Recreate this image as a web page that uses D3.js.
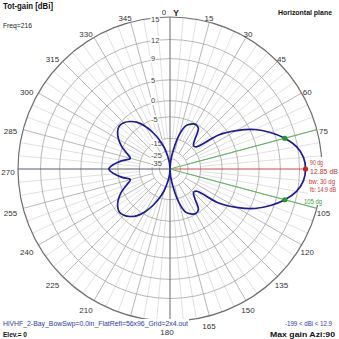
<!DOCTYPE html>
<html><head><meta charset="utf-8">
<script src="https://cdn.jsdelivr.net/npm/d3@7"></script>
<style>
body{margin:0;background:#fff}
svg{display:block;font-family:"Liberation Sans",Arial,sans-serif}
</style>
</head><body>
<svg id="c" width="339" height="339"></svg>
<script>
// ---- data ----
const azimuths = [0,5,10,15,20,25,30,35,40,45,50,55,60,65,70,75,80,85,
  90,95,100,105,110,115,120,125,130,135,140,145,150,155,160,165,170,175,
  180,185,190,195,200,205,210,215,220,225,230,235,240,245,250,255,260,265,
  270,275,280,285,290,295,300,305,310,315,320,325,330,335,340,345,350,355];
const gains = [-199,-40.1,-23.9,-12.5,-7.4,-6.0,-5.3,-6.0,-10.6,-13.5,-12.8,-2.6,2.2,5.9,8.4,10.4,11.85,12.64,
  12.85,12.64,11.85,10.4,8.4,5.9,2.2,-2.6,-12.8,-13.5,-10.6,-6.0,-5.3,-6.0,-7.4,-12.5,-23.9,-40.1,
  -199,-45.5,-31.0,-21.2,-14.8,-10.0,-6.2,-3.4,-1.8,-0.8,-0.5,-1.2,-2.6,-4.6,-7.4,-9.5,-6.4,-3.7,
  -2.05,-3.7,-6.4,-9.5,-7.4,-4.6,-2.6,-1.2,-0.5,-0.8,-1.8,-3.4,-6.2,-10.0,-14.8,-21.2,-31.0,-45.5];
const ringValues = [15,12,9,5,0,-5,-15,-25,-35];
// 90 and 195 are covered by the annotation / file name in the reference
const angleLabels = [0,15,30,45,60,75,105,120,135,150,165,180,210,225,240,255,270,285,300,315,330,345];
const maxAzi = 90, maxGain = 12.85;
const bwAngles = [75,105];
const annotRed = ["90 dg","12.85 dB","bw: 30 dg","fb: 14.9 dB"];
const annotGreen = "105 dg";
const titleLeft = "Tot-gain [dBi]", freqText = "Freq=216", titleRight = "Horizontal plane";
const fileText = "HiVHF_2-Bay_BowSwp=0.0in_FlatRefl=56x96_Grid=2x4.out";
const elevText = "Elev.= 0", rangeText = "-199 < dBi < 12.9", maxText = "Max gain Azi:90";

// ---- layout ----
const svg = d3.select("#c");
const cx = 170, cy = 169, R = 152;
const logR = d3.scaleLinear().domain([-45, 15]).range([Math.log(R) + 60*Math.log(0.948), Math.log(R)]);
const rOf = g => Math.exp(logR(g));
const ang = d3.scaleLinear().domain([0, 360]).range([0, 2*Math.PI]);
const pt = (a, r) => [r*Math.sin(ang(a)), -r*Math.cos(ang(a))];

const G = svg.append("g").attr("transform", `translate(${cx},${cy})`);

// spokes
const spokes5 = d3.range(0, 360, 5).filter(a => a % 15 !== 0);
const spokes15 = d3.range(0, 360, 15).filter(a => a % 90 !== 0);
G.selectAll(".s5").data(spokes5).join("line")
  .attr("x1", a => pt(a, rOf(-15))[0]).attr("y1", a => pt(a, rOf(-15))[1])
  .attr("x2", a => pt(a, R)[0]).attr("y2", a => pt(a, R)[1])
  .attr("stroke", "#d8d8d8").attr("stroke-width", 0.8);
G.selectAll(".s15").data(spokes15).join("line")
  .attr("x1", a => pt(a, rOf(-25))[0]).attr("y1", a => pt(a, rOf(-25))[1])
  .attr("x2", a => pt(a, R)[0]).attr("y2", a => pt(a, R)[1])
  .attr("stroke", "#a4a4a4").attr("stroke-width", 0.8);

// rings
G.selectAll(".ring").data(ringValues.slice(1)).join("circle")
  .attr("r", d => rOf(d)).attr("fill", "none")
  .attr("stroke", "#a4a4a4").attr("stroke-width", 0.8);
G.append("circle").attr("r", R).attr("fill", "none").attr("stroke", "#6e6e6e").attr("stroke-width", 1.2);

// axes
G.append("line").attr("x1", 0).attr("y1", -R).attr("x2", 0).attr("y2", R).attr("stroke", "#6a6a6a").attr("stroke-width", 1);
G.append("line").attr("x1", -R).attr("y1", 0).attr("x2", 0).attr("y2", 0).attr("stroke", "#5a5a6e").attr("stroke-width", 1);

// max-gain and beamwidth lines
G.append("line").attr("x1", 0).attr("y1", 0).attr("x2", pt(maxAzi, R)[0]).attr("y2", pt(maxAzi, R)[1])
  .attr("stroke", "#d04848").attr("stroke-width", 1);
G.selectAll(".bw").data(bwAngles).join("line")
  .attr("x1", 0).attr("y1", 0).attr("x2", a => pt(a, R)[0]).attr("y2", a => pt(a, R)[1])
  .attr("stroke", "#5cb85c").attr("stroke-width", 1);

// ring labels (opaque background)
const ringLabelDy = v => v >= 12 ? (v === 15 ? 2 : 0.5) : v >= 0 ? 0 : v === -5 ? 2.5 : 4.5;
const rl = G.selectAll(".rl").data(ringValues).join("g")
  .attr("transform", d => `translate(-19,${-rOf(d) + ringLabelDy(d)})`);
rl.append("text").attr("y", 2.7).attr("font-size", 7.5).attr("fill", "#444").text(d => d);
rl.each(function() {
  const t = d3.select(this).select("text").node().getBBox();
  d3.select(this).insert("rect", "text").attr("x", t.x - 0.5).attr("y", t.y + 0.5)
    .attr("width", t.width + 1).attr("height", t.height - 1).attr("fill", "#fff");
});

// angle labels
svg.selectAll(".al").data(angleLabels).join("text")
  .attr("x", a => { const s = Math.sin(ang(a)); return Math.max(8, cx + (R + 3 + (a===0?0:7)) * s - 3 - (a===0?3:0)); })
  .attr("y", a => cy - 159.6 * Math.cos(ang(a)) + 6)
  .attr("text-anchor", "middle").attr("font-size", 8).attr("fill", "#333").text(a => a);
svg.append("text").attr("x", 176).attr("y", 15.5).attr("text-anchor", "middle")
  .attr("font-size", 8.5).attr("font-weight", "bold").attr("fill", "#222").text("Y");

// trace
const data = azimuths.map((a, i) => ({a, g: gains[i]}));
const radial = d3.lineRadial().angle(d => ang(d.a)).radius(d => rOf(d.g))
  .curve(d3.curveCatmullRomClosed.alpha(0.5));
G.append("path").attr("d", radial(data)).attr("fill", "none")
  .attr("stroke", "#1a1a9a").attr("stroke-width", 1.7);

// markers
const gAt = a => gains[azimuths.indexOf(a)];
G.selectAll(".bwd").data(bwAngles).join("circle")
  .attr("cx", a => pt(a, rOf(gAt(a)))[0]).attr("cy", a => pt(a, rOf(gAt(a)))[1])
  .attr("r", 2.6).attr("fill", "#1f9a2a");
G.append("circle").attr("cx", pt(maxAzi, rOf(maxGain))[0]).attr("cy", pt(maxAzi, rOf(maxGain))[1])
  .attr("r", 2.6).attr("fill", "#d42020");

// annotations
svg.append("rect").attr("x", 308).attr("y", 157).attr("width", 31).attr("height", 48).attr("fill", "#fff");
const redLen = [13, 28, 26, 26];
svg.selectAll(".ar").data(annotRed).join("text")
  .attr("x", (d, i) => i === 2 ? 309 : 310).attr("y", (d, i) => [164.5, 173.5, 183.5, 191.5][i])
  .attr("font-size", 6.6).attr("fill", "#c83232")
  .attr("textLength", (d, i) => redLen[i]).attr("lengthAdjust", "spacingAndGlyphs").text(d => d);
svg.append("text").attr("x", 304).attr("y", 203.5).attr("font-size", 6.6).attr("fill", "#3aa03a")
  .attr("textLength", 18).attr("lengthAdjust", "spacingAndGlyphs").text(annotGreen);

// titles
const txt = (x, y, s, size, bold, fill, len, anchor) => {
  const t = svg.append("text").attr("x", x).attr("y", y).attr("font-size", size)
    .attr("font-weight", bold ? "bold" : "normal").attr("fill", fill).text(s);
  if (anchor) t.attr("text-anchor", anchor);
  if (len) t.attr("textLength", len).attr("lengthAdjust", "spacingAndGlyphs");
  return t;
};
txt(3, 9, titleLeft, 8.5, true, "#111", 50);
txt(3, 28, freqText, 7.5, false, "#222", 29);
txt(278, 15, titleRight, 8, true, "#111", 54);
svg.append("rect").attr("x", 2).attr("y", 319).attr("width", 187).attr("height", 8.5).attr("fill", "#fff");
txt(3, 326, fileText, 7, false, "#2a3aa8", 185);
txt(3, 336.5, elevText, 8, true, "#111", 24);
txt(285, 326, rangeText, 7, false, "#2a3aa8", 47);
txt(270, 336.5, maxText, 8, true, "#111", 65);
</script>
</body></html>
